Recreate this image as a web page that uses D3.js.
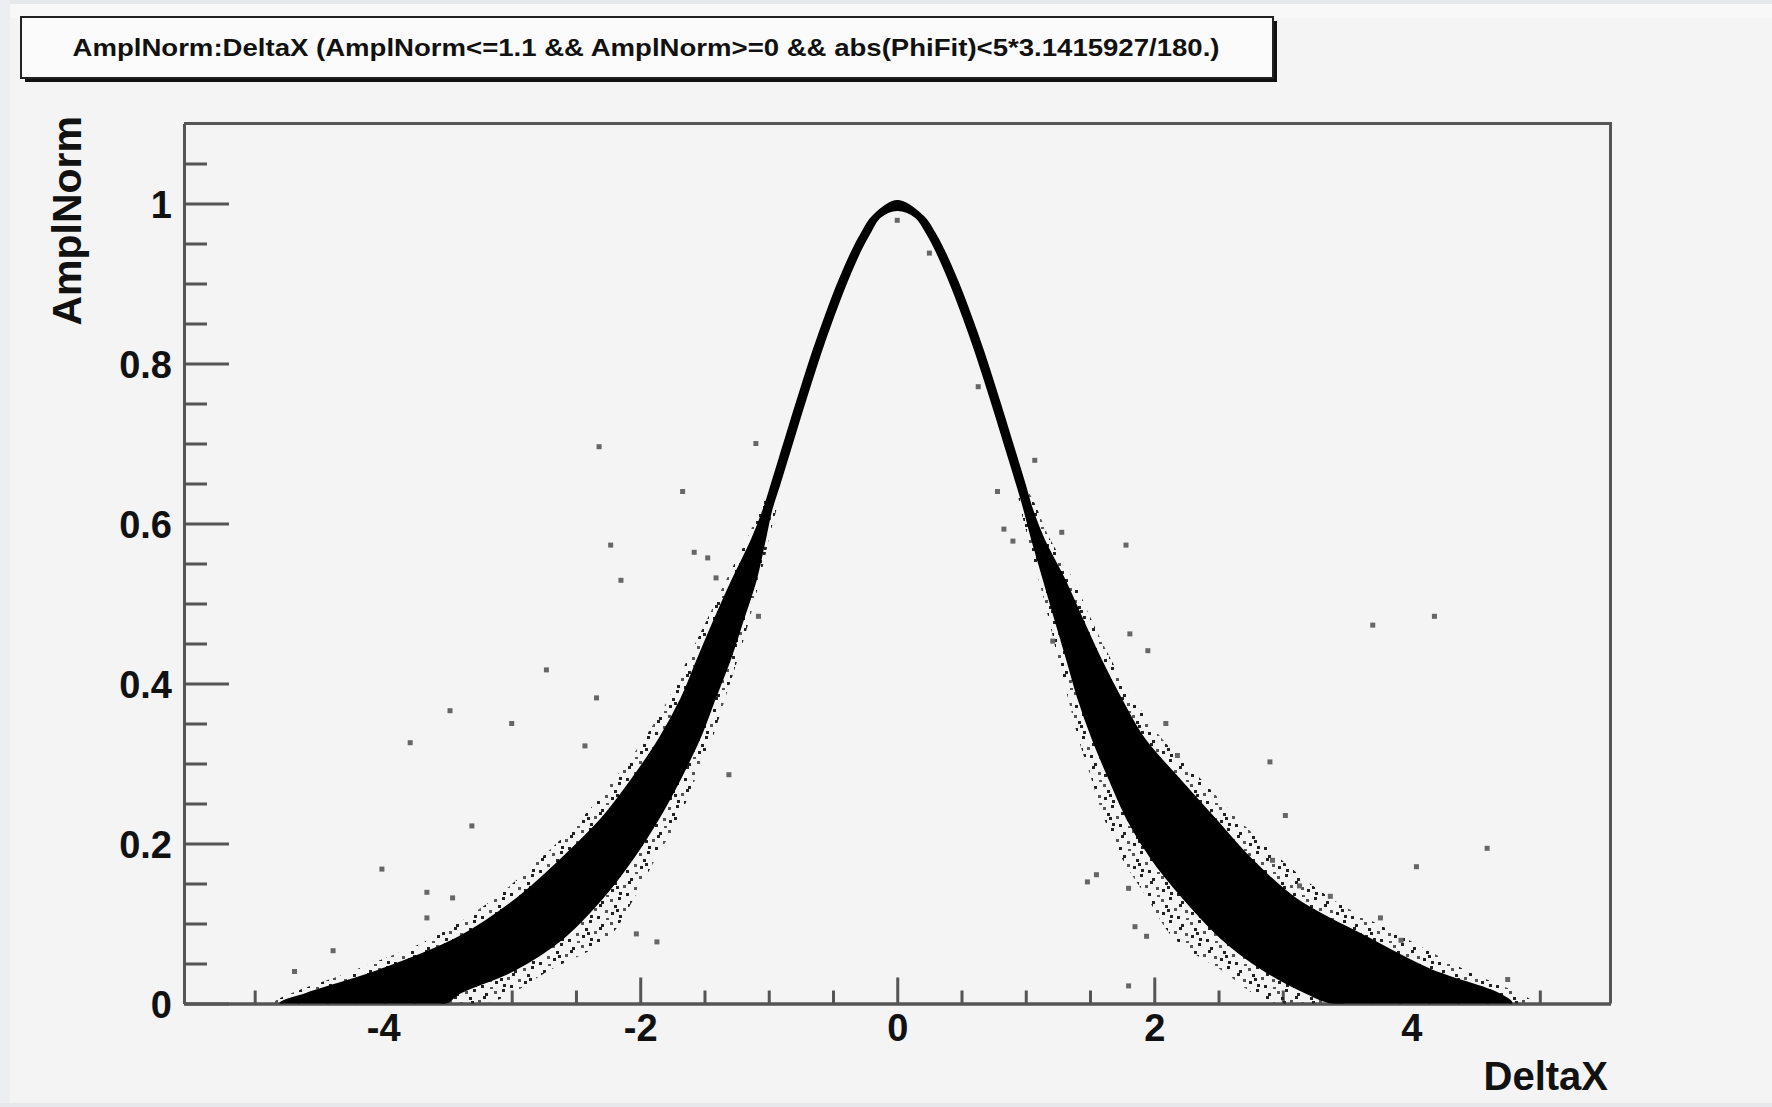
<!DOCTYPE html>
<html>
<head>
<meta charset="utf-8">
<script src="https://cdn.jsdelivr.net/npm/d3@7"></script>
<style>
  html, body { margin: 0; padding: 0; background: #f4f4f4; }
  svg { display: block; }
  text { font-family: "Liberation Sans", Arial, Helvetica, sans-serif; font-weight: bold; fill: #111; }
</style>
</head>
<body>
<svg id="chart" width="1772" height="1107"></svg>
<script>
// ---- Chart data -------------------------------------------------------
const histTitle = "AmplNorm:DeltaX (AmplNorm<=1.1 && AmplNorm>=0 && abs(PhiFit)<5*3.1415927/180.)";
const xTitle = "DeltaX";
const yTitle = "AmplNorm";

const xTickValues = [-4, -2, 0, 2, 4];
const xTickLabels = ["-4", "-2", "0", "2", "4"];
const yTickValues = [0, 0.2, 0.4, 0.6, 0.8, 1];
const yTickLabels = ["0", "0.2", "0.4", "0.6", "0.8", "1"];

// Dense event band: DeltaX of its edges at each AmplNorm level
const ampLevels  = [0, 0.012, 0.042, 0.082, 0.131, 0.181, 0.231, 0.281, 0.331, 0.381, 0.431, 0.480, 0.530, 0.580, 0.617, 0.650, 0.692, 0.734, 0.775, 0.817, 0.858, 0.900, 0.942, 0.963, 0.983];
const leftOuter  = [-4.80, -4.60, -4.02, -3.42, -2.96, -2.61, -2.30, -2.06, -1.85, -1.68, -1.55, -1.42, -1.28, -1.13, -1.04, -0.975, -0.895, -0.815, -0.735, -0.65, -0.56, -0.46, -0.345, -0.275, -0.195];
const leftInner  = [-3.52, -3.42, -2.98, -2.60, -2.30, -2.06, -1.86, -1.69, -1.54, -1.42, -1.30, -1.20, -1.10, -1.03, -0.98, -0.915, -0.835, -0.755, -0.675, -0.59, -0.50, -0.40, -0.285, -0.215, -0.135];
const rightInner = [3.40, 3.20, 2.85, 2.52, 2.23, 1.98, 1.79, 1.65, 1.52, 1.41, 1.32, 1.23, 1.14, 1.05, 0.99, 0.93, 0.85, 0.77, 0.69, 0.605, 0.515, 0.415, 0.30, 0.23, 0.145];
const rightOuter = [4.78, 4.68, 4.15, 3.66, 3.10, 2.75, 2.47, 2.19, 1.92, 1.74, 1.58, 1.44, 1.30, 1.14, 1.05, 0.99, 0.91, 0.83, 0.75, 0.665, 0.575, 0.475, 0.36, 0.29, 0.205];
const peakOuterAmpl = 1.003;
const peakInnerAmpl = 0.992;

// Sparser events around the band
const fringeLevels     = [0, 0.042, 0.082, 0.131, 0.181, 0.231, 0.281, 0.331, 0.381, 0.431, 0.480, 0.530, 0.580, 0.640];
const leftFringeOuter  = [-4.85, -4.22, -3.62, -3.14, -2.78, -2.46, -2.20, -1.97, -1.78, -1.63, -1.48, -1.33, -1.17, -1.00];
const leftFringeInner  = [-3.20, -2.70, -2.25, -2.05, -1.88, -1.70, -1.57, -1.44, -1.34, -1.24, -1.15, -1.07, -1.00, -0.93];
const rightFringeInner = [2.95, 2.52, 2.15, 1.95, 1.75, 1.61, 1.51, 1.41, 1.33, 1.25, 1.18, 1.10, 1.02, 0.95];
const rightFringeOuter = [4.95, 4.42, 3.95, 3.38, 2.98, 2.65, 2.36, 2.06, 1.84, 1.66, 1.51, 1.37, 1.19, 1.01];

// Isolated events
const outlierDeltaX = [-2.32, -1.10, -1.67, -2.23, -1.58, -1.475, -2.15, -2.73, -2.34, -3.48, -3.00, -3.79, -2.43, -1.31, -3.31, -4.01, -3.66, -3.46, -3.66, -4.39, -4.69, -2.03, -1.87, -1.41, -1.08,
                       1.07, 0.78, 0.83, 0.90, 1.28, 1.78, 3.70, 4.18, 1.81, 1.95, 1.21, 2.09, 2.18, 2.90, 3.02, 4.59, 4.04, 2.92, 3.13, 3.37, 3.76, 3.92, 1.48, 1.80, 1.94, 1.80, 4.75, 1.55, 1.85,
                       0.0, 0.25, 0.63];
const outlierAmpl   = [0.696, 0.700, 0.640, 0.573, 0.564, 0.557, 0.529, 0.417, 0.382, 0.366, 0.350, 0.326, 0.322, 0.286, 0.222, 0.168, 0.139, 0.132, 0.107, 0.066, 0.040, 0.087, 0.077, 0.532, 0.484,
                       0.679, 0.640, 0.593, 0.578, 0.589, 0.573, 0.473, 0.484, 0.462, 0.441, 0.453, 0.350, 0.310, 0.302, 0.235, 0.194, 0.171, 0.179, 0.147, 0.134, 0.107, 0.079, 0.152, 0.144, 0.084, 0.022, 0.030, 0.161, 0.096,
                       0.979, 0.938, 0.771];

// ---- Layout -----------------------------------------------------------
const svg = d3.select("#chart");
const frame = { left: 184, right: 1610.5, top: 123.5, bottom: 1003.5 };

const x = d3.scaleLinear().domain([-5.55, 5.55]).range([frame.left, frame.right]);
const y = d3.scaleLinear().domain([0, 1.1]).range([frame.bottom, frame.top]);

// window edges
svg.append("rect").attr("x", 0).attr("y", 0).attr("width", 1772).attr("height", 1107).attr("fill", "#f4f4f4");
svg.append("rect").attr("x", 0).attr("y", 0).attr("width", 1772).attr("height", 4).attr("fill", "#e6e8ec");
svg.append("rect").attr("x", 0).attr("y", 4).attr("width", 1772).attr("height", 14).attr("fill", "#f8f8f8");
svg.append("rect").attr("x", 0).attr("y", 0).attr("width", 10).attr("height", 1107).attr("fill", "#eceef2");
svg.append("rect").attr("x", 0).attr("y", 1103).attr("width", 1772).attr("height", 4).attr("fill", "#e6e8ec");

const defs = svg.append("defs");
defs.append("clipPath").attr("id", "plotArea").append("rect")
  .attr("x", frame.left).attr("y", frame.top)
  .attr("width", frame.right - frame.left).attr("height", frame.bottom - frame.top);

// speckle texture for the sparse fringe
const pat = defs.append("pattern").attr("id", "speckle").attr("patternUnits", "userSpaceOnUse")
  .attr("width", 29).attr("height", 23);
[[1, 2], [9, 0], [5, 8], [14, 11], [21, 4], [2, 15], [25, 13], [17, 19], [10, 18], [26, 21], [19, 7], [7, 12]].forEach(([px, py], k) => {
  pat.append("rect").attr("x", px).attr("y", py).attr("width", 3).attr("height", 3)
    .attr("fill", k % 3 === 0 ? "#555" : "#222");
});

// ---- Frame and axes ---------------------------------------------------
const axisColor = "#555";
const xMinor = d3.range(-5, 5.01, 0.5).filter(v => xTickValues.indexOf(v) < 0);
const yMinor = d3.range(0, 1.101, 0.05).map(v => +v.toFixed(2)).filter(v => yTickValues.indexOf(v) < 0 && v < 1.09);

const gx = svg.append("g").attr("transform", `translate(0,${frame.bottom})`);
gx.append("g").call(d3.axisBottom(x).tickValues(xMinor).tickSizeInner(-13).tickSizeOuter(0).tickFormat(""));
gx.append("g").call(d3.axisBottom(x).tickValues(xTickValues).tickSizeInner(-26).tickSizeOuter(0)
  .tickPadding(11).tickFormat((d, i) => xTickLabels[i]));

const gy = svg.append("g").attr("transform", `translate(${frame.left},0)`);
gy.append("g").call(d3.axisLeft(y).tickValues(yMinor).tickSizeInner(-23).tickSizeOuter(0).tickFormat(""));
gy.append("g").call(d3.axisLeft(y).tickValues(yTickValues).tickSizeInner(-45).tickSizeOuter(0)
  .tickPadding(12).tickFormat((d, i) => yTickLabels[i]));

svg.selectAll(".domain").attr("stroke", axisColor).attr("stroke-width", 3);
svg.selectAll(".tick line").attr("stroke", axisColor).attr("stroke-width", 3);
svg.selectAll(".tick text").style("font-size", "38px").attr("fill", "#111")
  .style("font-family", "'Liberation Sans', Arial, sans-serif").style("font-weight", "bold");
gy.selectAll(".tick text").attr("dy", "0.36em");

// top and right frame edges
svg.append("path")
  .attr("d", `M${frame.left},${frame.top}H${frame.right}V${frame.bottom}`)
  .attr("fill", "none").attr("stroke", axisColor).attr("stroke-width", 3);

// ---- Events -----------------------------------------------------------
const smooth = d3.line().x(d => x(d[0])).y(d => y(d[1])).curve(d3.curveCatmullRomClosed.alpha(0.5));
const events = svg.append("g").attr("clip-path", "url(#plotArea)");

function flank(outer, inner, levels) {
  const pts = [];
  levels.forEach((a, i) => pts.push([outer[i], a]));
  for (let i = levels.length - 1; i >= 0; i--) pts.push([inner[i], levels[i]]);
  return pts;
}
events.append("path").datum(flank(leftFringeOuter, leftFringeInner, fringeLevels))
  .attr("d", smooth).attr("fill", "url(#speckle)");
events.append("path").datum(flank(rightFringeOuter, rightFringeInner, fringeLevels))
  .attr("d", smooth).attr("fill", "url(#speckle)");

// closed outline of the dense band: left outer up, right outer down, right inner up, left inner down
const band = [];
ampLevels.forEach((a, i) => band.push([leftOuter[i], a]));
band.push([0, peakOuterAmpl]);
for (let i = ampLevels.length - 1; i >= 0; i--) band.push([rightOuter[i], ampLevels[i]]);
ampLevels.forEach((a, i) => band.push([rightInner[i], a]));
band.push([0, peakInnerAmpl]);
for (let i = ampLevels.length - 1; i >= 0; i--) band.push([leftInner[i], ampLevels[i]]);

events.append("path").datum(band).attr("d", smooth)
  .attr("fill", "#000").attr("stroke", "#000").attr("stroke-width", 2).attr("stroke-linejoin", "round");

events.append("g").selectAll("rect").data(outlierDeltaX.map((d, i) => [d, outlierAmpl[i]]))
  .join("rect")
  .attr("x", d => x(d[0]) - 2.5).attr("y", d => y(d[1]) - 2.5)
  .attr("width", 5).attr("height", 5).attr("fill", "#666");

// ---- Titles -----------------------------------------------------------
svg.append("text").attr("x", 1608).attr("y", 1090).attr("text-anchor", "end")
  .style("font-size", "40px").text(xTitle);
svg.append("text").attr("transform", "translate(81,116) rotate(-90)").attr("text-anchor", "end")
  .style("font-size", "41px").text(yTitle);

// title box with shadow
svg.append("rect").attr("x", 25).attr("y", 21).attr("width", 1252).attr("height", 61).attr("fill", "#111");
svg.append("rect").attr("x", 21).attr("y", 17).attr("width", 1252).attr("height", 61)
  .attr("fill", "#fbfbfb").attr("stroke", "#222").attr("stroke-width", 2);
svg.append("text").attr("x", 646).attr("y", 56).attr("text-anchor", "middle")
  .attr("textLength", 1147).attr("lengthAdjust", "spacingAndGlyphs")
  .style("font-size", "24px").text(histTitle);
</script>
</body>
</html>
